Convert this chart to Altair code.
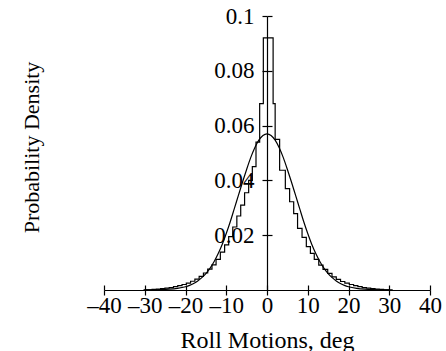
import altair as alt
import pandas as pd

# Plot area size in pixels
W, H = 326, 274

# Histogram of measured roll motions: left edge of each bin and its density
hist_edges = [-30.3, -29.25, -28.2, -27.15, -26.1, -25.05, -24.0, -22.95, -21.9,
              -20.85, -19.8, -18.75, -17.7, -16.65, -15.6, -14.55, -13.5, -12.5,
              -11.45, -10.4, -9.4, -8.4, -7.4, -6.45, -5.5, -4.5, -3.6, -2.7,
              -1.8, -0.9, 1.5, 2.0, 3.1, 4.5, 5.55, 6.55, 7.5, 8.6, 9.65, 10.65,
              11.6, 12.7, 13.75, 14.9, 15.95, 17.0, 18.05, 19.1, 20.2, 21.25,
              22.3, 23.35, 24.4, 25.45, 26.5, 27.55, 28.6, 29.65]
hist_heights = [0.00005, 0.0001, 0.0002, 0.0003, 0.0005, 0.0007, 0.0009, 0.0012,
                0.0016, 0.002, 0.0025, 0.0032, 0.004, 0.005, 0.0062, 0.0076,
                0.0092, 0.0112, 0.0138, 0.0165, 0.0195, 0.023, 0.027, 0.031,
                0.0355, 0.040, 0.045, 0.054, 0.068, 0.092, 0.068, 0.055, 0.0437,
                0.037, 0.0322, 0.0279, 0.0225, 0.0192, 0.0158, 0.0134, 0.0112,
                0.0091, 0.0075, 0.0061, 0.0048, 0.0039, 0.0031, 0.0025, 0.002,
                0.0016, 0.0012, 0.0009, 0.0007, 0.0005, 0.0003, 0.0002, 0.0001,
                0.00005]
hist_end = 30.7

# Fitted normal density curve
curve_x = [-30, -28, -26, -24, -22, -20, -19, -18, -17, -16, -15, -14, -13, -12,
           -11, -10, -9, -8, -7, -6, -5, -4, -3, -2, -1, 0, 1, 2, 3, 4, 5, 6, 7,
           8, 9, 10, 11, 12, 13, 14, 15, 16, 17, 18, 19, 20, 22, 24, 26, 28, 30]
curve_y = [0.00003, 0.00007, 0.00015, 0.0003, 0.0006, 0.0012, 0.0017, 0.0024,
           0.0033, 0.0045, 0.0060, 0.0079, 0.0103, 0.0132, 0.0166, 0.0206,
           0.0250, 0.0298, 0.0346, 0.0394, 0.0440, 0.0483, 0.0519, 0.0547,
           0.0564, 0.0570, 0.0564, 0.0547, 0.0519, 0.0483, 0.0440, 0.0394,
           0.0346, 0.0298, 0.0250, 0.0206, 0.0166, 0.0132, 0.0103, 0.0079,
           0.0060, 0.0045, 0.0033, 0.0024, 0.0017, 0.0012, 0.0006, 0.0003,
           0.00015, 0.00007, 0.00003]

x_ticks = [-40, -30, -20, -10, 0, 10, 20, 30, 40]
y_ticks = [0.02, 0.04, 0.06, 0.08, 0.1]

hist_df = pd.DataFrame({"roll": hist_edges + [hist_end],
                        "density": hist_heights + [0.0]})
curve_df = pd.DataFrame({"roll": curve_x, "density": curve_y})

FONT = "Liberation Serif, Times New Roman, serif"
x_scale = alt.Scale(domain=[-40, 40], nice=False, zero=False)
y_scale = alt.Scale(domain=[0, 0.1], nice=False)

common = dict(grid=False, domainColor="black", domainWidth=1.2,
              tickColor="black", tickWidth=1.2, tickSize=5,
              labelFont=FONT, labelFontSize=23, labelColor="black",
              titleFont=FONT, titleColor="black", titleFontWeight="normal")

# Axes crossing at the origin; ticks drawn on both sides of each axis line
x_axis_main = alt.Axis(orient="bottom", values=x_ticks, labelPadding=17,
                       labelBaseline="alphabetic", labelFlush=False,
                       labelOverlap=False,
                       labelExpr="datum.value < 0 ? '\u2013' + abs(datum.value) : datum.label",
                       titleFontSize=24, titleBaseline="alphabetic", titleY=57,
                       **common)
x_axis_up = alt.Axis(orient="top", offset=-H, values=x_ticks, labels=False,
                     domain=False, **common)
y_axis_main = alt.Axis(orient="left", offset=-W / 2, values=y_ticks,
                       format="~g", labelPadding=8, labelOverlap=False,
                       titleFontSize=22, titleAngle=270,
                       titleBaseline="alphabetic", titleAlign="center",
                       titleX=-229, titleY=131, **common)
y_axis_right = alt.Axis(orient="right", offset=-W / 2, values=y_ticks,
                        labels=False, domain=False, **common)

hist = alt.Chart(hist_df).mark_line(
    interpolate="step-after", color="black", strokeWidth=1.2
).encode(
    x=alt.X("roll:Q", scale=x_scale, axis=x_axis_main, title="Roll Motions, deg"),
    y=alt.Y("density:Q", scale=y_scale, axis=y_axis_main, title="Probability Density"),
)

curve = alt.Chart(curve_df).mark_line(
    interpolate="monotone", color="black", strokeWidth=1.2
).encode(
    x=alt.X("roll:Q", scale=x_scale, axis=x_axis_up, title=None),
    y=alt.Y("density:Q", scale=y_scale, axis=y_axis_right, title=None),
)

chart = alt.layer(hist, curve).resolve_axis(
    x="independent", y="independent"
).properties(
    width=W, height=H,
    autosize=alt.AutoSizeParams(type="none"),
    padding={"left": 104, "top": 16, "right": 16, "bottom": 61},
).configure(
    background="white", font=FONT
).configure_axis(
    labelFont=FONT, titleFont=FONT
).configure_view(stroke=None)

chart.save("out.html", embed_options={"renderer": "svg", "actions": False})
